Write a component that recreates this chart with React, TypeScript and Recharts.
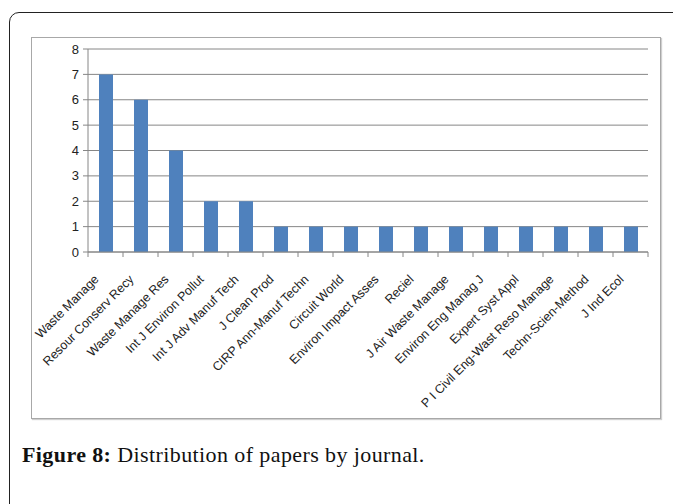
import { BarChart, Bar, XAxis, YAxis, CartesianGrid } from 'recharts';

const journals = [
  "Waste Manage",
  "Resour Conserv Recy",
  "Waste Manage Res",
  "Int J Environ Pollut",
  "Int J Adv Manuf Tech",
  "J Clean Prod",
  "CIRP Ann-Manuf Techn",
  "Circuit World",
  "Environ Impact Asses",
  "Reciel",
  "J Air Waste Manage",
  "Environ Eng Manag J",
  "Expert Syst Appl",
  "P I Civil Eng-Wast Reso Manage",
  "Techn-Scien-Method",
  "J Ind Ecol",
];
const papers = [7, 6, 4, 2, 2, 1, 1, 1, 1, 1, 1, 1, 1, 1, 1, 1];
const yTicks = [0, 1, 2, 3, 4, 5, 6, 7, 8];

const data = journals.map((name, i) => ({ name, papers: papers[i] }));

const CHART_W = 630;
const CHART_H = 382;
const MARGIN = { top: 11, right: 12, left: 0, bottom: 0 };
const Y_W = 56;
const BAND = (CHART_W - 2 - MARGIN.left - MARGIN.right - Y_W) / data.length;
const GRAY = "#868686";
const LABEL_FONT = "'Liberation Sans', Arial, sans-serif";

const JournalTick = (props: any) => {
  const { x, y, payload, index } = props;
  const axisY = y - 5;
  const isLast = index === data.length - 1;
  const tx = x - 6;
  const ty = axisY + 28;
  return (
    <g>
      <line x1={x - BAND / 2} y1={axisY} x2={x - BAND / 2} y2={axisY + 5} stroke={GRAY} />
      {isLast && (
        <line x1={x + BAND / 2} y1={axisY} x2={x + BAND / 2} y2={axisY + 5} stroke={GRAY} />
      )}
      <text
        x={tx}
        y={ty}
        textAnchor="end"
        transform={`rotate(-45, ${tx}, ${ty})`}
        fontSize={12.5}
        fontFamily={LABEL_FONT}
        fill="#222"
      >
        {payload.value}
      </text>
    </g>
  );
};

export default function App() {
  return (
    <div style={{ position: "absolute", left: 0, top: 0, width: 673, height: 504, background: "#fff", overflow: "hidden" }}>
      <div
        style={{
          position: "absolute",
          left: 9,
          top: 12,
          width: 700,
          height: 540,
          border: "1.5px solid #222",
          borderTopLeftRadius: 10,
          boxSizing: "border-box",
        }}
      />
      <div
        style={{
          position: "absolute",
          left: 31,
          top: 37,
          width: CHART_W,
          height: CHART_H,
          border: "1px solid #a8a8a8",
          boxSizing: "border-box",
          boxShadow: "1px 1px 1px #cfcfcf",
        }}
      >
        <BarChart width={CHART_W - 2} height={CHART_H - 2} data={data} margin={MARGIN} barCategoryGap={0}>
          <CartesianGrid vertical={false} stroke={GRAY} strokeWidth={1} />
          <YAxis
            domain={[0, 8]}
            ticks={yTicks}
            width={Y_W}
            axisLine={{ stroke: GRAY }}
            tickLine={{ stroke: GRAY }}
            tickSize={5}
            tickMargin={4}
            tick={{ fill: "#222", fontSize: 13, fontFamily: LABEL_FONT }}
            interval={0}
          />
          <XAxis
            dataKey="name"
            interval={0}
            height={CHART_H - 2 - 214}
            axisLine={{ stroke: GRAY }}
            tickLine={false}
            tickSize={5}
            tickMargin={0}
            tick={<JournalTick />}
          />
          <Bar dataKey="papers" fill="#4F81BD" barSize={14} isAnimationActive={false} />
        </BarChart>
      </div>
      <div
        style={{
          position: "absolute",
          left: 22,
          top: 442,
          fontFamily: "'Liberation Serif', 'Times New Roman', serif",
          fontSize: 22,
          letterSpacing: 0.4,
          color: "#111",
          whiteSpace: "nowrap",
        }}
      >
        <b>Figure 8:</b> Distribution of papers by journal.
      </div>
    </div>
  );
}
